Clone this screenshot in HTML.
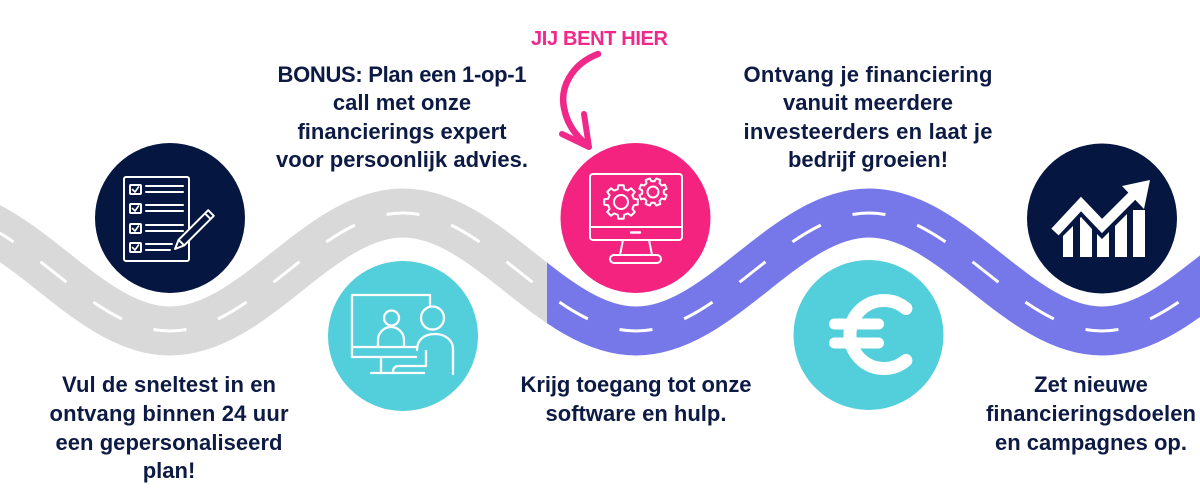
<!DOCTYPE html>
<html>
<head>
<meta charset="utf-8">
<style>
  html, body { margin:0; padding:0; background:#ffffff; }
  body { width:1200px; height:500px; overflow:hidden; }
  svg { display:block; }
  .t { font-family:"Liberation Sans", "DejaVu Sans", sans-serif; font-weight:bold; font-size:22px; fill:#0c1a44; }
</style>
</head>
<body>
<svg width="1200" height="500" viewBox="0 0 1200 500" xmlns="http://www.w3.org/2000/svg">
  <defs>
    <clipPath id="cg"><rect x="-100" y="0" width="647" height="500"/></clipPath>
    <clipPath id="cp"><rect x="547" y="0" width="800" height="500"/></clipPath>
  </defs>

  <!-- Gray road -->
  <g clip-path="url(#cg)">
    <path d="M-63,213 C21,213 86,331 170,331 C254,331 319,213 403,213 C487,213 552,331 636,331" fill="none" stroke="#d9d9d9" stroke-width="49"/>
    <g fill="none" stroke="#ffffff" stroke-width="3" stroke-dasharray="33 33.5" stroke-dashoffset="16.5">
      <path pathLength="266" d="M-63,213 C21,213 86,331 170,331"/>
      <path pathLength="266" d="M170,331 C254,331 319,213 403,213"/>
      <path pathLength="266" d="M403,213 C487,213 552,331 636,331"/>
    </g>
  </g>

  <!-- Purple road -->
  <g clip-path="url(#cp)">
    <path d="M403,213 C487,213 552,331 636,331 C720,331 785,213 869,213 C953,213 1018,331 1102,331 C1186,331 1251,213 1335,213" fill="none" stroke="#7678ea" stroke-width="49"/>
    <g fill="none" stroke="#ffffff" stroke-width="3" stroke-dasharray="33 33.5" stroke-dashoffset="16.5">
      <path pathLength="266" d="M403,213 C487,213 552,331 636,331"/>
      <path pathLength="266" d="M636,331 C720,331 785,213 869,213"/>
      <path pathLength="266" d="M869,213 C953,213 1018,331 1102,331"/>
      <path pathLength="266" d="M1102,331 C1186,331 1251,213 1335,213"/>
    </g>
  </g>

  <!-- Circles -->
  <circle cx="170" cy="218" r="75" fill="#051641"/>
  <circle cx="403" cy="336" r="75" fill="#53cedb"/>
  <circle cx="635.5" cy="218" r="75" fill="#f4237f"/>
  <circle cx="868.5" cy="335" r="75" fill="#53cedb"/>
  <circle cx="1102" cy="218.5" r="75" fill="#051641"/>

  <!-- Icon 1: checklist -->
  <g fill="none" stroke="#ffffff" stroke-width="2" stroke-linejoin="round" stroke-linecap="round">
    <rect x="124" y="177" width="65" height="84" rx="2"/>
    <rect x="130" y="185" width="11" height="9" rx="1"/>
    <rect x="130" y="204" width="11" height="9" rx="1"/>
    <rect x="130" y="224" width="11" height="9" rx="1"/>
    <rect x="130" y="243" width="11" height="9" rx="1"/>
    <polyline points="132.5,189.5 135,192 138.5,187" stroke-width="1.6"/>
    <polyline points="132.5,208.5 135,211 138.5,206" stroke-width="1.6"/>
    <polyline points="132.5,228.5 135,231 138.5,226" stroke-width="1.6"/>
    <polyline points="132.5,247.5 135,250 138.5,245" stroke-width="1.6"/>
    <line x1="146" y1="186" x2="183" y2="186"/>
    <line x1="146" y1="192" x2="183" y2="192"/>
    <line x1="146" y1="205" x2="183" y2="205"/>
    <line x1="146" y1="211" x2="183" y2="211"/>
    <line x1="146" y1="225" x2="183" y2="225"/>
    <line x1="146" y1="231" x2="183" y2="231"/>
    <line x1="146" y1="244" x2="172" y2="244"/>
    <line x1="146" y1="250" x2="170" y2="250"/>
  </g>
  <!-- pencil -->
  <g stroke="#ffffff" stroke-width="2" stroke-linejoin="round" fill="#051641">
    <polygon points="175,249 184.2,245.4 213.8,215.8 208.2,210.2 178.6,239.8"/>
    <line x1="178.6" y1="239.8" x2="184.2" y2="245.4"/>
    <line x1="205" y1="213.4" x2="210.6" y2="219"/>
  </g>

  <!-- Icon 2: video call -->
  <g fill="none" stroke="#ffffff" stroke-width="2.3" stroke-linejoin="round" stroke-linecap="round">
    <path d="M416,357 L352,357 L352,295 L430,295 L430,305"/>
    <line x1="352" y1="347" x2="416" y2="347"/>
    <line x1="381" y1="357" x2="381" y2="372"/>
    <line x1="371" y1="373" x2="424" y2="373"/>
    <circle cx="391.5" cy="318" r="7.5"/>
    <path d="M378,347 L378,340 A13,13 0 0 1 404,340 L404,347"/>
    <circle cx="432.5" cy="318" r="11.5"/>
    <path d="M417,350 C417,340 424,334 435,334 C446,334 453,341 453,349 L453,374"/>
    <path d="M426,351 L426,366 L399,366 Q393,366 393,372"/>
  </g>

  <!-- Icon 3: monitor with gears -->
  <g fill="none" stroke="#ffffff" stroke-width="2" stroke-linejoin="round" stroke-linecap="round">
    <rect x="590" y="174" width="92" height="66" rx="3"/>
    <line x1="590" y1="227" x2="682" y2="227"/>
    <line x1="631" y1="232.5" x2="640" y2="232.5" stroke-width="2.4"/>
    <path d="M623,240 L620,255 M649,240 L652,255"/>
    <rect x="610" y="255" width="51" height="8" rx="4"/>
    <path vector-effect="non-scaling-stroke" transform="translate(621,202) scale(0.17)" d="M75.7,-18.9 L98.8,-15.6 L98.8,15.6 L75.7,18.9 L66.9,40.2 L80.9,58.8 L58.8,80.9 L40.2,66.9 L18.9,75.7 L15.6,98.8 L-15.6,98.8 L-18.9,75.7 L-40.2,66.9 L-58.8,80.9 L-80.9,58.8 L-66.9,40.2 L-75.7,18.9 L-98.8,15.6 L-98.8,-15.6 L-75.7,-18.9 L-66.9,-40.2 L-80.9,-58.8 L-58.8,-80.9 L-40.2,-66.9 L-18.9,-75.7 L-15.6,-98.8 L15.6,-98.8 L18.9,-75.7 L40.2,-66.9 L58.8,-80.9 L80.9,-58.8 L66.9,-40.2 Z"/>
    <circle cx="621" cy="202" r="7"/>
    <path vector-effect="non-scaling-stroke" transform="translate(653,192) rotate(22.5) scale(0.14)" d="M75.7,-18.9 L98.8,-15.6 L98.8,15.6 L75.7,18.9 L66.9,40.2 L80.9,58.8 L58.8,80.9 L40.2,66.9 L18.9,75.7 L15.6,98.8 L-15.6,98.8 L-18.9,75.7 L-40.2,66.9 L-58.8,80.9 L-80.9,58.8 L-66.9,40.2 L-75.7,18.9 L-98.8,15.6 L-98.8,-15.6 L-75.7,-18.9 L-66.9,-40.2 L-80.9,-58.8 L-58.8,-80.9 L-40.2,-66.9 L-18.9,-75.7 L-15.6,-98.8 L15.6,-98.8 L18.9,-75.7 L40.2,-66.9 L58.8,-80.9 L80.9,-58.8 L66.9,-40.2 Z"/>
    <circle cx="653" cy="192" r="5.5"/>
  </g>

  <!-- Icon 4: euro -->
  <g fill="none" stroke="#ffffff" stroke-linecap="round">
    <path d="M905.9,308.5 A34,34 0 1 0 905.9,360.5" stroke-width="13"/>
    <line x1="834.5" y1="324" x2="878.5" y2="324" stroke-width="11"/>
    <line x1="834.5" y1="343" x2="878.5" y2="343" stroke-width="11"/>
  </g>

  <!-- Icon 5: growth chart -->
  <g fill="#ffffff">
    <polygon points="1063,257 1063,236 1073,226 1073,257"/>
    <polygon points="1080,257 1080,218 1081,217 1092,229 1092,257"/>
    <polygon points="1097,257 1097,234 1102,239 1109,232 1109,257"/>
    <polygon points="1115,257 1115,226 1127,214 1127,257"/>
    <polygon points="1133,257 1133,210 1145,210 1145,257"/>
    <polygon points="1150,180 1122,186 1144,209"/>
  </g>
  <polyline points="1055,232 1081,204 1102,226 1138,190" fill="none" stroke="#ffffff" stroke-width="10" stroke-linejoin="miter"/>

  <!-- Arrow -->
  <g fill="none" stroke="#f0288a" stroke-linecap="round" stroke-linejoin="round">
    <path d="M598,54 C572,64 558,88 565,112 C568,125 577,137 587,145" stroke-width="6.5"/>
    <path d="M562,134 L589,147 L584,114" stroke-width="6"/>
  </g>

  <!-- Texts -->
  <text x="599.5" y="45" text-anchor="middle" textLength="137" lengthAdjust="spacing" style="font-family:'Liberation Sans', sans-serif;font-weight:bold;font-size:20px;fill:#f0288a;">JIJ BENT HIER</text>

  <text class="t" text-anchor="middle">
    <tspan x="402" y="82" textLength="249" lengthAdjust="spacing">BONUS: Plan een 1-op-1</tspan>
  </text>
  <text class="t" x="402" y="110" text-anchor="middle">call met onze</text>
  <text class="t" x="402" y="139" text-anchor="middle">financierings expert</text>
  <text class="t" x="402" y="167" text-anchor="middle" textLength="252" lengthAdjust="spacing">voor persoonlijk advies.</text>

  <text class="t" x="868" y="82" text-anchor="middle" textLength="249" lengthAdjust="spacing">Ontvang je financiering</text>
  <text class="t" x="868" y="110" text-anchor="middle">vanuit meerdere</text>
  <text class="t" x="868" y="139" text-anchor="middle" textLength="249" lengthAdjust="spacing">investeerders en laat je</text>
  <text class="t" x="868" y="167" text-anchor="middle">bedrijf groeien!</text>

  <text class="t" x="169" y="392" text-anchor="middle" textLength="214" lengthAdjust="spacing">Vul de sneltest in en</text>
  <text class="t" x="169" y="421" text-anchor="middle" textLength="239" lengthAdjust="spacing">ontvang binnen 24 uur</text>
  <text class="t" x="169" y="450" text-anchor="middle" textLength="227" lengthAdjust="spacing">een gepersonaliseerd</text>
  <text class="t" x="169" y="478" text-anchor="middle">plan!</text>

  <text class="t" x="636" y="392" text-anchor="middle" textLength="231" lengthAdjust="spacing">Krijg toegang tot onze</text>
  <text class="t" x="636" y="421" text-anchor="middle">software en hulp.</text>

  <text class="t" x="1091" y="392" text-anchor="middle">Zet nieuwe</text>
  <text class="t" x="1091" y="421" text-anchor="middle" textLength="210" lengthAdjust="spacing">financieringsdoelen</text>
  <text class="t" x="1091" y="450" text-anchor="middle">en campagnes op.</text>
</svg>
</body>
</html>
